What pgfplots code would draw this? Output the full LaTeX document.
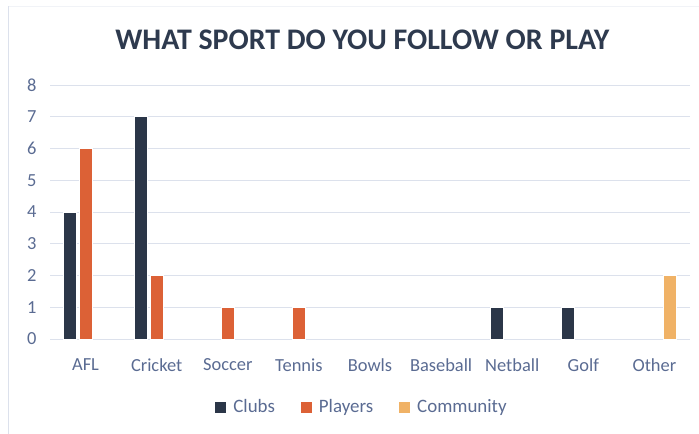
\documentclass[border=0pt]{standalone}
\usepackage{pgfplots}
\pgfplotsset{compat=1.18}
\usepackage{fontspec}
\setmainfont{Carlito}
\definecolor{clubs}{HTML}{2B3648}
\definecolor{players}{HTML}{DC6136}
\definecolor{community}{HTML}{F0B266}
\definecolor{ticktxt}{HTML}{5A6B92}
\definecolor{titletxt}{HTML}{2E3A4E}
\definecolor{gridc}{HTML}{DCE1EC}
\begin{document}
\begin{tikzpicture}
\useasboundingbox (-50bp,-95bp) rectangle (649bp,339bp);
\draw[color=gridc, line width=1bp] (-41bp,-95bp) -- (-41bp,333bp);
\draw[color=gridc!40, line width=0.6bp] (-41bp,333bp) -- (649bp,333bp);
\begin{axis}[
  at={(0,0)}, anchor=south west,
  scale only axis, width=640bp, height=254bp,
  xmin=-0.5, xmax=8.5, ymin=0, ymax=8,
  xtick={0,...,8},
  xticklabels={AFL,Cricket,Soccer,Tennis,Bowls,Baseball,Netball,Golf,Other},
  ytick={0,...,8},
  axis line style={draw=none},
  tick style={draw=none},
  ymajorgrids, grid style={gridc, line width=0.8bp},
  /pgf/number format/assume math mode=true,
  ticklabel style={font=\fontsize{18.5}{20}\selectfont, text=ticktxt},
  yticklabel style={xshift=-10bp},
  xticklabel style={yshift=-12bp},
  ybar, bar width=0.18,
  every axis plot/.append style={draw=white, line width=0.6bp},
  title={\bfseries WHAT SPORT DO YOU FOLLOW OR PLAY},
  title style={font=\fontsize{30}{32}\selectfont, text=titletxt, at={(0.488,1)}, anchor=base, yshift=30bp},
  legend style={at={(0.4875,-0.268)}, anchor=center, draw=none, fill=none,
    legend columns=3, font=\fontsize{19}{21}\selectfont, text=ticktxt,
    /tikz/every odd column/.append style={column sep=5bp},
    /tikz/every even column/.append style={column sep=24bp}},
  legend image code/.code={\fill[#1, draw=none] (0bp,-5.5bp) rectangle (11bp,5.5bp);},
]
\addplot[fill=clubs, bar shift=-0.218] coordinates {(0,4) (1,7) (6,1) (7,1)};
\addplot[fill=players, bar shift=0] coordinates {(0,6) (1,2) (2,1) (3,1)};
\addplot[fill=community, bar shift=0.218] coordinates {(8,2)};
\legend{Clubs,Players,Community}
\end{axis}
\end{tikzpicture}
\end{document}
